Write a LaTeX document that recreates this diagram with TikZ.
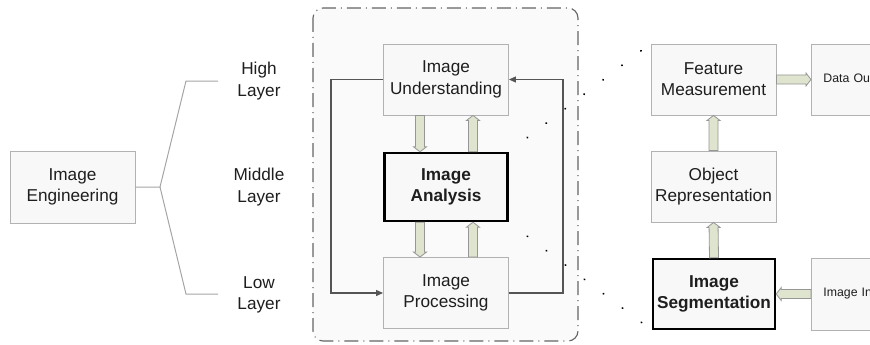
\documentclass[tikz,border=0pt]{standalone}
\usepackage{fontspec}
\setmainfont{Liberation Sans}
\usetikzlibrary{calc,arrows.meta}
\definecolor{boxline}{RGB}{178,178,178}
\definecolor{boxfill}{RGB}{248,248,248}
\definecolor{arrfill}{RGB}{222,228,206}
\definecolor{arrline}{RGB}{150,150,150}
\definecolor{regionfill}{RGB}{250,250,250}
\definecolor{regionline}{RGB}{100,100,100}
\definecolor{fbline}{RGB}{85,85,85}
\definecolor{brline}{RGB}{165,165,165}
\definecolor{txt}{RGB}{30,30,30}
\newcommand\blockarr[2]{%
  \coordinate (ba-s) at (#1);
  \coordinate (ba-e) at (#2);
  \coordinate (ba-h) at ($(ba-e)!5pt!(ba-s)$);
  \draw[blockarrow] ($(ba-s)!4.5pt!90:(ba-e)$) -- ($(ba-h)!4.5pt!90:(ba-e)$)
    -- ($(ba-h)!6.5pt!90:(ba-e)$) -- (ba-e) -- ($(ba-h)!6.5pt!-90:(ba-e)$)
    -- ($(ba-h)!4.5pt!-90:(ba-e)$) -- ($(ba-s)!4.5pt!-90:(ba-e)$) -- cycle;}
\begin{document}
\begin{tikzpicture}[x=1pt,y=-1pt,
  box/.style={draw=boxline, fill=boxfill, line width=0.9pt, minimum width=125pt,
    minimum height=71pt, inner sep=0pt, align=center, text=txt,
    font=\fontsize{17.2}{21.3}\selectfont},
  keybox/.style={box, draw=black, line width=2.4pt,
    font=\fontsize{17.2}{21.3}\selectfont\bfseries},
  sidebox/.style={box, text width=100pt, align=left, inner xsep=12pt, inner ysep=0pt,
    minimum width=0pt, anchor=west, font=\fontsize{12.3}{15}\selectfont},
  layer/.style={align=center, text=txt, inner sep=0pt, font=\fontsize{17.2}{21.3}\selectfont},
  region/.style={draw=regionline, fill=regionfill, line width=1.1pt, rounded corners=10pt,
    dash pattern=on 14pt off 5pt on 1pt off 5pt},
  fb/.style={draw=fbline, line width=1.1pt, -{Triangle[length=7pt,width=6pt]}},
  bracket/.style={draw=brline, line width=1pt},
  dotline/.style={draw=black, line width=2.2pt, line cap=round,
    dash pattern=on 0.01pt off 23.8pt, dash phase=0.3pt},
  blockarrow/.style={draw=arrline, fill=arrfill, line width=0.8pt, line join=miter}
]
\useasboundingbox (0,0) rectangle (870,345);
\clip (0,0) rectangle (870,345);

% region
\draw[region] (313,8) rectangle (578,341);

% left part
\node[box, minimum height=72pt] (ie) at (72.5,187) {Image\\Engineering};
\node[layer] (high) at (259,81) {High\\Layer};
\node[layer] (mid) at (259,187) {Middle\\Layer};
\node[layer] (low) at (259,295) {Low\\Layer};
\coordinate (brJ) at (160,187);
\coordinate (brH) at (186,81);
\coordinate (brL) at (186,294);
\coordinate (brHe) at (218,81);
\coordinate (brLe) at (218,294);
\draw[bracket] (ie.east) -- (brJ) -- (brH) -- (brHe);
\draw[bracket] (brJ) -- (brL) -- (brLe);

% middle
\node[box] (iu) at (446,79.5) {Image\\Understanding};
\node[keybox, minimum width=123pt, minimum height=68pt] (ia) at (446,187) {Image\\Analysis};
\node[box] (ip) at (446,293) {Image\\Processing};

\coordinate (fbL) at (331,187);
\coordinate (fbR) at (563,187);
\draw[fb] (iu.west) -| (fbL) |- (ip.west);
\draw[fb] (ip.east) -| (fbR) |- (iu.east);

\blockarr{$(iu.south)+(-26,0)$}{$(ia.north)+(-26,0)$}
\blockarr{$(ia.north)+(27,0)$}{$(iu.south)+(27,0)$}
\blockarr{$(ia.south)+(-26,0)$}{$(ip.north)+(-26,0)$}
\blockarr{$(ip.north)+(27,0)$}{$(ia.south)+(27,0)$}

% right part
\node[box] (fm) at (713.5,79.5) {Feature\\Measurement};
\node[box] (or) at (713.5,186.5) {Object\\Representation};
\node[keybox, minimum width=122pt, minimum height=70pt] (is) at (714,294) {Image\\Segmentation};
\node[sidebox, minimum height=71pt] (do) at (811,79.5) {Data Output};
\node[sidebox, minimum height=72pt] (ii) at (811,294) {Image Input};

\draw[dotline] (ia.north east) -- (fm.north west);
\draw[dotline] (ia.south east) -- (is.south west);

\blockarr{fm.east}{do.west}
\blockarr{or.north}{fm.south}
\blockarr{is.north}{or.south}
\blockarr{ii.west}{is.east}
\end{tikzpicture}
\end{document}
